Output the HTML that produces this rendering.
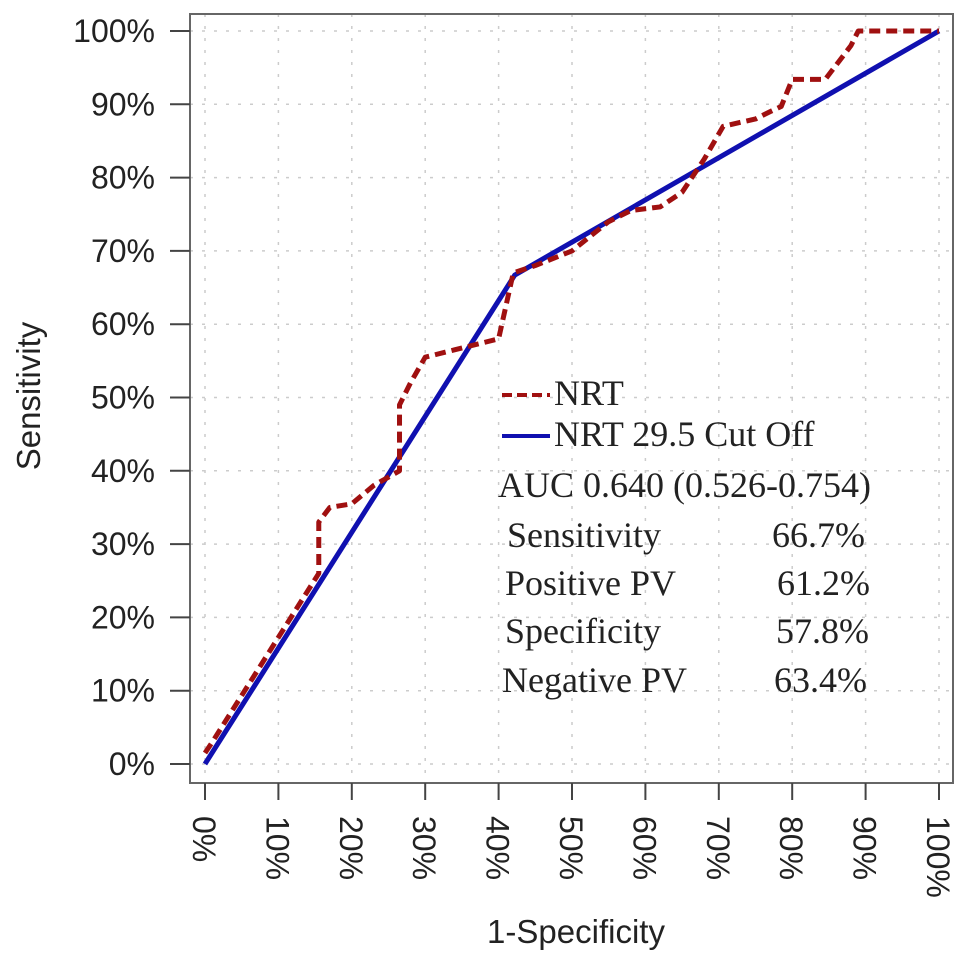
<!DOCTYPE html>
<html><head><meta charset="utf-8"><style>
body{margin:0;background:#fff}
svg text{font-family:"Liberation Sans",sans-serif}
.serif{font-family:"Liberation Serif",serif!important;font-size:36px;fill:#222}
</style></head><body>
<svg width="969" height="964" xmlns="http://www.w3.org/2000/svg" id="c">
<g id="grid"></g>
<rect x="190" y="14" width="763" height="769" fill="none" stroke="#666" stroke-width="2"/>
<g id="axes"></g>
<g id="series"></g>
<g>
<line x1="502" y1="395" x2="550" y2="395" stroke="#a01010" stroke-width="4" stroke-dasharray="10,5"/>
<text class="serif" x="554" y="405">NRT</text>
<line x1="502" y1="436" x2="550" y2="436" stroke="#1010b0" stroke-width="4"/>
<text class="serif" x="554" y="446">NRT 29.5 Cut Off</text>
</g>
<g>
<text class="serif" x="498" y="497">AUC 0.640 (0.526-0.754)</text>
<text class="serif" x="507" y="547">Sensitivity</text><text class="serif" x="865" y="547" text-anchor="end">66.7%</text>
<text class="serif" x="505" y="595">Positive PV</text><text class="serif" x="870" y="595" text-anchor="end">61.2%</text>
<text class="serif" x="505" y="643">Specificity</text><text class="serif" x="869" y="643" text-anchor="end">57.8%</text>
<text class="serif" x="502" y="692">Negative PV</text><text class="serif" x="867" y="692" text-anchor="end">63.4%</text>
</g>
<text x="576" y="943" font-size="33" text-anchor="middle" fill="#222">1-Specificity</text>
<text transform="translate(40,396) rotate(-90)" font-size="33" text-anchor="middle" fill="#222">Sensitivity</text>
</svg>
<script>
const ticks=[0,10,20,30,40,50,60,70,80,90,100];
const nrtX=[0,1,15.5,15.5,17,20,23,26.5,26.5,28,30,34,40,42,45,50,55,58,62,65,68,70.6,75,77,78.5,80,84.5,88,89,100];
const nrtY=[1.5,3,26,33,35,35.5,38,40,49,52,55.5,56.5,58,67,68,70,74,75.5,76,78,82.5,87,88,89,89.7,93.4,93.4,98,100,100];
const cutX=[0,42.2,100];
const cutY=[0,66.7,100];
const NS="http://www.w3.org/2000/svg";
const sx=v=>205+v*7.34, sy=v=>764-v*7.33;
function mk(t,a,p){const e=document.createElementNS(NS,t);for(const k in a)e.setAttribute(k,a[k]);p.appendChild(e);return e;}
const g=document.getElementById('grid'),ax=document.getElementById('axes'),s=document.getElementById('series');
ticks.forEach(t=>{
 const v=mk('line',{x1:sx(t),x2:sx(t),y1:14,y2:783,stroke:'#ccc','stroke-width':1.5,'stroke-dasharray':'3,9'},g);
 
 
 const h=mk('line',{x1:190,x2:953,y1:sy(t),y2:sy(t),stroke:'#ccc','stroke-width':1.5,'stroke-dasharray':'3,9'},g);
 
 
 mk('line',{x1:170,x2:190,y1:sy(t),y2:sy(t),stroke:'#444','stroke-width':2},ax);
 const yl=mk('text',{x:155,y:sy(t)+11,'font-size':32,'text-anchor':'end',fill:'#222'},ax);yl.textContent=t+'%';
 
 
 mk('line',{x1:sx(t),x2:sx(t),y1:783,y2:800,stroke:'#444','stroke-width':2},ax);
 const xl=mk('text',{transform:`translate(${sx(t)-12},816) rotate(90)`,'font-size':32,fill:'#222'},ax);xl.textContent=t+'%';
 
 
});
const c=mk('polyline',{points:cutX.map((x,i)=>sx(x)+','+sy(cutY[i])).join(' '),fill:'none',stroke:'#1010b0','stroke-width':5},s);


const n=mk('polyline',{points:nrtX.map((x,i)=>sx(x)+','+sy(nrtY[i])).join(' '),fill:'none',stroke:'#a01010','stroke-width':5,'stroke-dasharray':'11,6','stroke-linejoin':'round'},s);


</script>
</body></html>
